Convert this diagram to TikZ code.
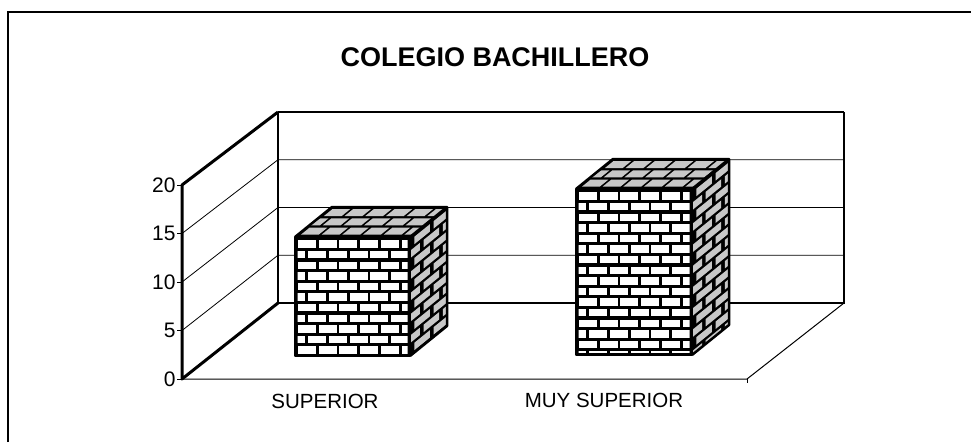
\documentclass[tikz,border=0pt]{standalone}
\usepackage{fontspec}
\setmainfont{Liberation Sans}
\usetikzlibrary{calc}
\definecolor{grey1}{RGB}{200,200,200}

% one brick bar: #1 left, #2 right, #3 top, #4 bottom (depth 37,-30)
\newcommand{\brickbar}[4]{%
  \fill[black] (#1,#3) rectangle (#2,#4);
  \begin{scope}
    \clip (#1+2.5,#3+2.5) rectangle (#2-2.5,#4-2.5);
    \foreach \row in {0,...,16}
      \foreach \col in {-1,...,6}
        \fill[white] ({#1+3+\col*20.7-mod(\row,2)*10.35},{#3+3.3+\row*10.6}) rectangle ++(17.8,7.4);
  \end{scope}
  % side face
  \fill[black] (#2,#3) -- ++(37,-30) -- (#2+37,#4-30) -- (#2,#4) -- cycle;
  \begin{scope}
    \clip (#2,#3) -- ++(37,-30) -- (#2+37,#4-30) -- (#2,#4) -- cycle;
    \foreach \row in {0,...,16}
      \foreach \sa in {-0.4,0.12,0.64} {
        \pgfmathsetmacro\sb{\sa+mod(\row,2)*0.25}
        \pgfmathsetmacro\se{\sb+0.42}
        \pgfmathsetmacro\yt{#3+3.3+\row*10.6}
        \fill[grey1] ({#2+\sb*37},{\yt-\sb*30}) -- ({#2+\se*37},{\yt-\se*30})
          -- ({#2+\se*37},{\yt+7.4-\se*30}) -- ({#2+\sb*37},{\yt+7.4-\sb*30}) -- cycle;
      }
  \end{scope}
  % top face
  \fill[black] (#1,#3) -- (#2,#3) -- ++(37,-30) -- (#1+37,#3-30) -- cycle;
  \begin{scope}
    \clip (#1,#3) -- (#2,#3) -- ++(37,-30) -- (#1+37,#3-30) -- cycle;
    \foreach \row in {0,1,2}
      \foreach \col in {-2,...,6} {
        \pgfmathsetmacro\sb{0.08+\row*0.31}
        \pgfmathsetmacro\se{\sb+0.23}
        \pgfmathsetmacro\xa{#1+3+\col*20.7-mod(\row,2)*10.35}
        \fill[grey1] ({\xa+\sb*37},{#3-\sb*30}) -- ({\xa+17.8+\sb*37},{#3-\sb*30})
          -- ({\xa+17.8+\se*37},{#3-\se*30}) -- ({\xa+\se*37},{#3-\se*30}) -- cycle;
      }
  \end{scope}
  \draw[line width=2.5pt, line join=round] (#1,#3) rectangle (#2,#4);
  \draw[line width=2.5pt, line join=round] (#1,#3) -- ++(37,-30) -- (#2+37,#3-30) -- (#2+37,#4-30) -- (#2,#4);
  \draw[line width=2.5pt] (#2,#3) -- ++(37,-30);
}

\begin{document}
\begin{tikzpicture}[x=1pt, y=-1pt, line width=1pt]
  \useasboundingbox (0,0) rectangle (971,442);
  % frame
  \draw[line width=1.5pt] (8,442) -- (8,12) -- (971,12);
  \node[font=\bfseries\fontsize{27}{27}\selectfont] (title) at (495,57) {COLEGIO BACHILLERO};

  % walls and floor corners
  \coordinate (f0) at (182,379);
  \coordinate (f20) at (182,185);
  \coordinate (b0) at (278,303);
  \coordinate (b20) at (278,112);
  \coordinate (r0) at (844,303);
  \coordinate (r20) at (844,112);
  \coordinate (fr) at (747,379);

  % grid lines
  \foreach \v in {5,10,15}
   {\draw[line width=0.8pt] (182,{379-\v*9.7}) -- (278,{303-\v*9.55}) -- (844,{303-\v*9.55});}
  \foreach \v in {0,5,...,20}
   {\draw[line width=0.8pt] (177,{379-\v*9.7}) -- (182,{379-\v*9.7});
    \node[anchor=east, inner sep=1pt, font=\fontsize{21}{21}\selectfont] (t\v) at (177,{379-\v*9.7}) {\v};}

  \draw[line width=2pt] (b20) -- (r20);
  \draw[line width=2pt] (b20) -- (b0);
  \draw[line width=2.5pt] (b0) -- (r0) -- (r20);
  \draw[line width=3pt, line join=round] (b20) -- (f20) -- (f0) -- (b0);
  \draw[line width=1pt] (f0) -- (fr) -- (r0);
  \draw[line width=1pt] (fr) -- ++(0,4);

  % bars
  \brickbar{295}{410}{237}{356}
  \brickbar{576}{692}{189}{355}

  \node[font=\fontsize{20.5}{20.5}\selectfont] (c1) at (325,401) {SUPERIOR};
  \node[font=\fontsize{20.5}{20.5}\selectfont] (c2) at (604,400) {MUY SUPERIOR};
\end{tikzpicture}
\end{document}
